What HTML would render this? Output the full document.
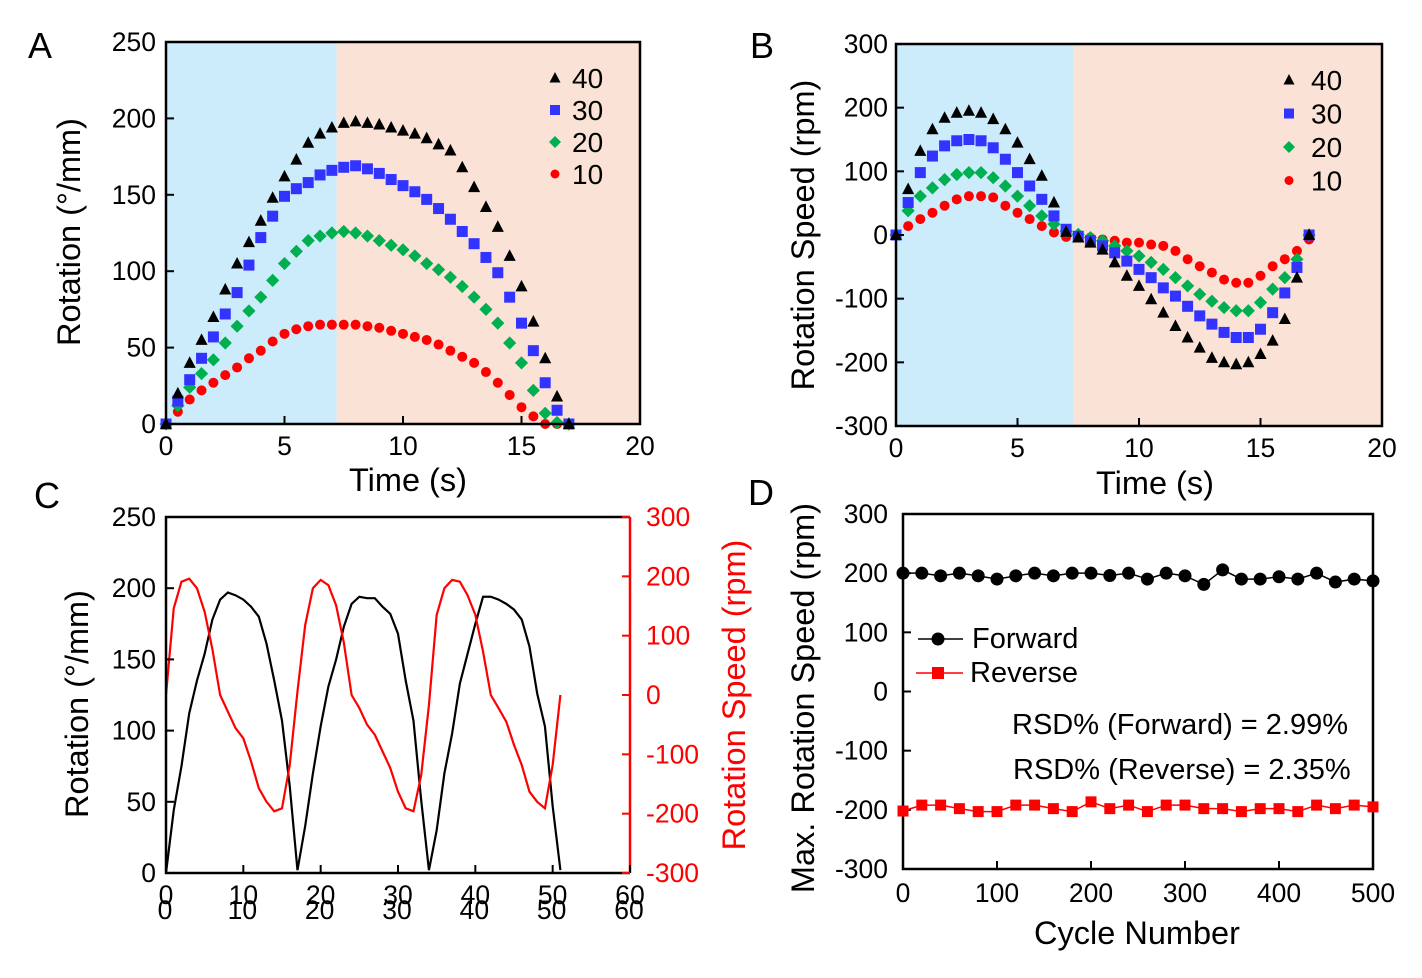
<!DOCTYPE html>
<html><head><meta charset="utf-8"><style>
html,body{margin:0;padding:0;background:#fff;}
svg text{font-family:"Liberation Sans",Arial,sans-serif;}
</style></head><body>
<svg id="fig" xmlns="http://www.w3.org/2000/svg" width="1422" height="973" viewBox="0 0 1422 973"></svg>
<script>
// ---------- Panel A data (Rotation vs time, t = 0..17 step 0.5) ----------
const timeA = [0,0.5,1,1.5,2,2.5,3,3.5,4,4.5,5,5.5,6,6.5,7,7.5,8,8.5,9,9.5,10,10.5,11,11.5,12,12.5,13,13.5,14,14.5,15,15.5,16,16.5,17];
const rotA40 = [0,20,40,55,70,88,105,119,133,148,162,173,184,190,194,197,198,197,196,194,192,190,187,183,179,168,155,142,129,110,90,67,43,18,0];
const rotA30 = [0,15,29,43,57,72,86,104,122,136,149,154,158,163,166,168,169,167,164,160,156,152,147,141,134,126,118,109,99,83,66,48,27,9,0];
const rotA20 = [0,12,24,33,42,53,64,74,83,94,105,113,120,123,125,126,125,123,120,117,114,110,105,101,96,90,83,75,66,53,40,22,7,1,0];
const rotA10 = [0,8,16,22,27,32,37,43,48,54,59,62,64,65,65,65,65,64,63,61,59,57,55,52,48,44,40,34,27,19,11,5,0,0,0];
// ---------- Panel B data (Rotation speed vs time) ----------
const timeB = timeA;
const spdB40 = [0,72,132,166,184,192,195,192,182,166,145,119,93,51,5,-4,-12,-23,-43,-64,-80,-101,-122,-143,-161,-177,-193,-200,-203,-200,-187,-166,-132,-67,0];
const spdB30 = [0,51,98,124,140,148,150,148,137,119,98,77,56,30,9,-2,-9,-17,-28,-41,-54,-67,-83,-96,-112,-127,-140,-153,-161,-161,-148,-122,-91,-51,0];
const spdB20 = [0,38,61,74,87,95,98,98,90,77,61,46,30,17,6,1,-4,-9,-17,-25,-33,-43,-54,-67,-80,-93,-104,-114,-119,-119,-106,-85,-67,-38,0];
const spdB10 = [0,14,25,35,46,56,61,61,59,46,35,25,14,4,-3,-2,-4,-7,-9,-12,-12,-15,-17,-25,-38,-49,-59,-70,-75,-75,-64,-49,-38,-25,-7];
// ---------- Panel C data (3 cycles, t = 0..51 step 1) ----------
const timeC = [0,1,2,3,4,5,6,7,8,9,10,11,12,13,14,15,16,17,18,19,20,21,22,23,24,25,26,27,28,29,30,31,32,33,34,35,36,37,38,39,40,41,42,43,44,45,46,47,48,49,50,51];
const rotC = [0,44,75,112,135,154,178,192,197,195,192,187,180,161,135,107,61,2,33,70,103,131,150,173,189,194,193,193,187,182,168,135,107,51,2,30,70,98,133,154,175,194,194,192,189,185,178,159,126,103,47,2];
const spdC = [0,146,191,196,180,140,77,0,-28,-56,-73,-112,-157,-180,-196,-191,-118,6,118,180,194,185,151,88,0,-22,-50,-67,-95,-123,-163,-191,-196,-135,-17,135,180,194,191,168,135,73,0,-22,-45,-84,-118,-163,-180,-191,-118,0];
// ---------- Panel D data ----------
const cycles = [0,20,40,60,80,100,120,140,160,180,200,220,240,260,280,300,320,340,360,380,400,420,440,460,480,500];
const fwdD = [200,200,195.5,200,195.5,190,195.5,200,195.5,200,200,196,200,190,200,195.5,181,205.6,190,190,194,190,200,185,190,187];
const revD = [-202,-192,-192,-198,-203,-203,-192,-192,-198,-203,-186.5,-198,-192,-203,-192,-192,-198,-198,-203,-198,-198,-203,-192,-198,-192,-195];
// tick labels
const ticksA_x = [0,5,10,15,20];
const ticksA_y = [0,50,100,150,200,250];
const ticksB_y = [-300,-200,-100,0,100,200,300];
const ticksC_x = [0,10,20,30,40,50,60];
const ticksC_yl = [0,50,100,150,200,250];
const ticksC_yr = [-300,-200,-100,0,100,200,300];
const ticksD_x = [0,100,200,300,400,500];
const ticksD_y = [-300,-200,-100,0,100,200,300];

const NS='http://www.w3.org/2000/svg';
const svg=document.getElementById('fig');
const TS=26.5, TT=32.5;
function mk(tag,attrs,parent){const e=document.createElementNS(NS,tag);for(const k in attrs)e.setAttribute(k,attrs[k]);(parent||svg).appendChild(e);return e;}
function scale(d0,d1,r0,r1){return v=>r0+(v-d0)*(r1-r0)/(d1-d0);}
function txt(x,y,s,size,anchor,fill,parent,rot){const e=mk('text',{x:x,y:y,'font-size':size,'text-anchor':anchor||'middle',fill:fill||'#000'},parent);if(rot)e.setAttribute('transform','rotate(-90 '+x+' '+y+')');e.textContent=s;return e;}
function marker(g,shape,x,y,color,s){
  let e;
  if(shape==='tri')e=mk('polygon',{points:(x)+','+(y-s*0.6)+' '+(x-s*0.55)+','+(y+s*0.45)+' '+(x+s*0.55)+','+(y+s*0.45),fill:color},g);
  else if(shape==='sq')e=mk('rect',{x:x-s/2,y:y-s/2,width:s,height:s,fill:color},g);
  else if(shape==='dia')e=mk('polygon',{points:x+','+(y-s*0.6)+' '+(x+s*0.6)+','+y+' '+x+','+(y+s*0.6)+' '+(x-s*0.6)+','+y,fill:color},g);
  else e=mk('circle',{cx:x,cy:y,r:s/2,fill:color},g);
  return e;
}

// ===== Panel A =====
(function(){
  const g=mk('g',{});
  
  
  const X=scale(0,20,166,640),Y=scale(0,250,424,42);
  let r=mk('rect',{x:166,y:42,width:X(7.2)-166,height:382,fill:'#CCEBFB'},g);
  
  
  r=mk('rect',{x:X(7.2),y:42,width:640-X(7.2),height:382,fill:'#FAE3D6'},g);
  
  
  const series=[[rotA40,'tri','#000','series-40'],[rotA30,'sq','#3333FF','series-30'],[rotA20,'dia','#00B050','series-20'],[rotA10,'c','#FF0000','series-10']];
  series.slice().reverse().forEach(s=>{const sg=mk('g',{},g);
    
    
    s[0].forEach((v,i)=>{const m=marker(sg,s[1],X(timeA[i]),Y(v),s[2],s[1]==='c'?10:11);
      
      });});
  let f=mk('rect',{x:166,y:42,width:474,height:382,fill:'none',stroke:'#000','stroke-width':2.5},g);
  
  
  ticksA_x.forEach(v=>{mk('line',{x1:X(v),x2:X(v),y1:424,y2:416,stroke:'#000','stroke-width':2},g);
    const t=txt(X(v),455,String(v),TS,'middle','#000',g);
    
    });
  ticksA_y.forEach(v=>{mk('line',{x1:166,x2:174,y1:Y(v),y2:Y(v),stroke:'#000','stroke-width':2},g);
    const t=txt(156,Y(v)+9,String(v),TS,'end','#000',g);
    
    });
  let t=txt(408,491,'Time (s)',TT,'middle','#000',g);
  
  
  t=txt(80,232,'Rotation  (°/mm)',TT,'middle','#000',g,true);
  
  
  t=txt(28,58,'A',36,'start','#000',g);
  
  
  ['40','30','20','10'].forEach((s,i)=>{const y=78+i*32;
    const m=marker(g,series[i][1],555,y,series[i][2],series[i][1]==='c'?9:10);
    
    
    const l=txt(572,y+10,s,28,'start','#000',g);
    
    });
})();

// ===== Panel B =====
(function(){
  const g=mk('g',{});
  
  
  const X=scale(0,20,896,1382),Y=scale(-300,300,426,44);
  let r=mk('rect',{x:896,y:44,width:X(7.3)-896,height:382,fill:'#CCEBFB'},g);
  
  
  r=mk('rect',{x:X(7.3),y:44,width:1382-X(7.3),height:382,fill:'#FAE3D6'},g);
  
  
  const series=[[spdB40,'tri','#000','series-40'],[spdB30,'sq','#3333FF','series-30'],[spdB20,'dia','#00B050','series-20'],[spdB10,'c','#FF0000','series-10']];
  series.slice().reverse().forEach(s=>{const sg=mk('g',{},g);
    
    
    s[0].forEach((v,i)=>{const m=marker(sg,s[1],X(timeB[i]),Y(v),s[2],s[1]==='c'?10:11);
      
      });});
  let f=mk('rect',{x:896,y:44,width:486,height:382,fill:'none',stroke:'#000','stroke-width':2.5},g);
  
  
  ticksA_x.forEach(v=>{mk('line',{x1:X(v),x2:X(v),y1:426,y2:418,stroke:'#000','stroke-width':2},g);
    const t=txt(X(v),457,String(v),TS,'middle','#000',g);
    
    });
  ticksB_y.forEach(v=>{mk('line',{x1:896,x2:904,y1:Y(v),y2:Y(v),stroke:'#000','stroke-width':2},g);
    const t=txt(888,Y(v)+9,String(v),TS,'end','#000',g);
    
    });
  let t=txt(1155,494,'Time (s)',TT,'middle','#000',g);
  
  
  t=txt(814,235,'Rotation  Speed  (rpm)',TT,'middle','#000',g,true);
  
  
  t=txt(750,58,'B',36,'start','#000',g);
  
  
  ['40','30','20','10'].forEach((s,i)=>{const y=80+i*33.5;
    const m=marker(g,series[i][1],1289,y,series[i][2],series[i][1]==='c'?9:10);
    
    
    const l=txt(1311,y+10,s,28,'start','#000',g);
    
    });
})();

// ===== Panel C =====
(function(){
  const g=mk('g',{});
  
  
  const X=scale(0,60,166,630),YL=scale(0,250,873,517),YR=scale(-300,300,873,517);
  let p=mk('polyline',{points:timeC.map((t,i)=>X(t)+','+YL(rotC[i])).join(' '),fill:'none',stroke:'#000','stroke-width':2.2},g);
  
  
  p=mk('polyline',{points:timeC.map((t,i)=>X(t)+','+YR(spdC[i])).join(' '),fill:'none',stroke:'#FF0000','stroke-width':2.2},g);
  
  
  mk('polyline',{points:'630,517 166,517 166,873 630,873',fill:'none',stroke:'#000','stroke-width':2.5},g);
  let ra=mk('line',{x1:630,x2:630,y1:517,y2:873,stroke:'#FF0000','stroke-width':2.5},g);
  
  
  ticksC_x.forEach(v=>{mk('line',{x1:X(v),x2:X(v),y1:873,y2:865,stroke:'#000','stroke-width':2},g);
    let t=txt(X(v),904,String(v),TS,'middle','#000',g);
    
    
    t=txt(X(v)-1,919,String(v),TS,'middle','#000',g);
    
    });
  ticksC_yl.forEach(v=>{mk('line',{x1:166,x2:174,y1:YL(v),y2:YL(v),stroke:'#000','stroke-width':2},g);
    const t=txt(156,YL(v)+9,String(v),TS,'end','#000',g);
    
    });
  ticksC_yr.forEach(v=>{mk('line',{x1:622,x2:630,y1:YR(v),y2:YR(v),stroke:'#FF0000','stroke-width':2},g);
    const t=txt(646,YR(v)+9,String(v),TS,'start','#FF0000',g);
    
    });
  let t=txt(88,704,'Rotation  (°/mm)',TT,'middle','#000',g,true);
  
  
  t=txt(745,695,'Rotation  Speed  (rpm)',TT,'middle','#FF0000',g,true);
  
  
  t=txt(34,508,'C',36,'start','#000',g);
  
  
})();

// ===== Panel D =====
(function(){
  const g=mk('g',{});
  
  
  const X=scale(0,500,903,1373),Y=scale(-300,300,869,514);
  let f=mk('rect',{x:903,y:514,width:470,height:355,fill:'none',stroke:'#000','stroke-width':2.5},g);
  
  
  ticksD_x.forEach(v=>{mk('line',{x1:X(v),x2:X(v),y1:869,y2:861,stroke:'#000','stroke-width':2},g);
    const t=txt(X(v),902,String(v),TS,'middle','#000',g);
    
    });
  ticksD_y.forEach(v=>{mk('line',{x1:903,x2:911,y1:Y(v),y2:Y(v),stroke:'#000','stroke-width':2},g);
    const t=txt(888,Y(v)+9,String(v),TS,'end','#000',g);
    
    });
  let p=mk('polyline',{points:cycles.map((c,i)=>X(c)+','+Y(fwdD[i])).join(' '),fill:'none',stroke:'#000','stroke-width':1.5},g);
  
  
  cycles.forEach((c,i)=>{const m=marker(g,'c',X(c),Y(fwdD[i]),'#000',13);
    
    });
  p=mk('polyline',{points:cycles.map((c,i)=>X(c)+','+Y(revD[i])).join(' '),fill:'none',stroke:'#FF0000','stroke-width':1.5},g);
  
  
  cycles.forEach((c,i)=>{const m=marker(g,'sq',X(c),Y(revD[i]),'#FF0000',11);
    
    });
  mk('line',{x1:918,x2:963,y1:639,y2:639,stroke:'#000','stroke-width':1.5},g);
  let m=marker(g,'c',938,639,'#000',13);
  
  
  let t=txt(972,648,'Forward',29,'start','#000',g);
  
  
  mk('line',{x1:916,x2:963,y1:673,y2:673,stroke:'#FF0000','stroke-width':1.5},g);
  m=marker(g,'sq',938,673,'#FF0000',12);
  
  
  t=txt(970,682,'Reverse',29,'start','#000',g);
  
  
  t=txt(1012,734,'RSD% (Forward) = 2.99%',29,'start','#000',g);
  
  
  t=txt(1013,779,'RSD% (Reverse) = 2.35%',29,'start','#000',g);
  
  
  t=txt(1137,944,'Cycle Number',TT,'middle','#000',g);
  
  
  t=txt(814,698,'Max.  Rotation  Speed  (rpm)',TT,'middle','#000',g,true);
  
  
  t=txt(748,505,'D',36,'start','#000',g);
  
  
})();
</script>
</body></html>
